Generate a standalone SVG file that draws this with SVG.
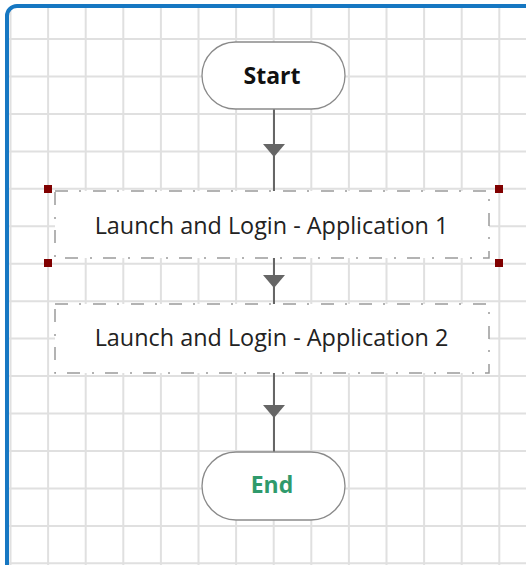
<svg xmlns="http://www.w3.org/2000/svg" xmlns:xlink="http://www.w3.org/1999/xlink" width="526" height="565" viewBox="0 0 526 565">
  <style>
    .grid { stroke: #e0e0e0; stroke-width: 2; fill: none; }
    .term { fill: #ffffff; stroke: #8a8a8a; stroke-width: 1.3; }
    .proc { fill: #ffffff; stroke: #9a9a9a; stroke-width: 1.5; stroke-dasharray: 13 11 2 12; }
    .conn { stroke: #666666; stroke-width: 2; fill: none; }
    .head { fill: #666666; }
    .handle { fill: #800000; }
    .lbl { font-family: "Open Sans", "Noto Sans", "Liberation Sans", sans-serif; font-size: 23.4px; fill: #222222; text-anchor: middle; }
    .tlbl { font-family: "Open Sans", "Noto Sans", "Liberation Sans", sans-serif; font-size: 23px; font-weight: bold; text-anchor: middle; }
  </style>
  <defs>
    <path id="arrowhead" d="M -11 0 L 11 0 L 0 13 Z"/>
  </defs>
  <rect x="0" y="0" width="526" height="565" fill="#ffffff"/>
  <g id="grid" class="grid">
    <path d="M10.5 8V565M48.1 8V565M85.7 8V565M123.3 8V565M160.9 8V565M198.5 8V565M236.1 8V565M273.7 8V565M311.3 8V565M348.9 8V565M386.5 8V565M424.1 8V565M461.7 8V565M499.3 8V565"/>
    <path d="M8 39H526M8 76.5H526M8 113.9H526M8 151.4H526M8 188.8H526M8 226.3H526M8 263.7H526M8 301.2H526M8 338.6H526M8 376.1H526M8 413.5H526M8 451H526M8 488.4H526M8 525.9H526M8 563.3H526"/>
  </g>
  <rect id="frame" x="7" y="6" width="540" height="580" rx="10" fill="none" stroke="#1677c2" stroke-width="4"/>
  <g id="connectors">
    <line class="conn" x1="274" y1="109" x2="274" y2="191"/>
    <use xlink:href="#arrowhead" class="head" transform="translate(274,144)"/>
    <line class="conn" x1="274" y1="258" x2="274" y2="304"/>
    <use xlink:href="#arrowhead" class="head" transform="translate(274,275)"/>
    <line class="conn" x1="274" y1="373" x2="274" y2="452"/>
    <use xlink:href="#arrowhead" class="head" transform="translate(274,405)"/>
  </g>
  <g id="start">
    <rect class="term" x="202" y="42" width="143" height="67" rx="33.5"/>
    <text class="tlbl" x="272" y="83.5" fill="#111111">Start</text>
  </g>
  <g id="app1">
    <rect class="proc" x="55" y="191" width="434" height="67"/>
    <text class="lbl" x="271.5" y="233.5">Launch and Login - Application 1</text>
    <g id="selection">
      <rect class="handle" x="44" y="185" width="8" height="8"/>
      <rect class="handle" x="495" y="185" width="8" height="8"/>
      <rect class="handle" x="44" y="259" width="8" height="8"/>
      <rect class="handle" x="495" y="259" width="8" height="8"/>
    </g>
  </g>
  <g id="app2">
    <rect class="proc" x="55" y="304" width="434" height="69"/>
    <text class="lbl" x="271.5" y="346">Launch and Login - Application 2</text>
  </g>
  <g id="end">
    <rect class="term" x="202" y="452" width="143" height="68" rx="34"/>
    <text class="tlbl" x="272" y="492.5" fill="#2f9a6c">End</text>
  </g>
</svg>
